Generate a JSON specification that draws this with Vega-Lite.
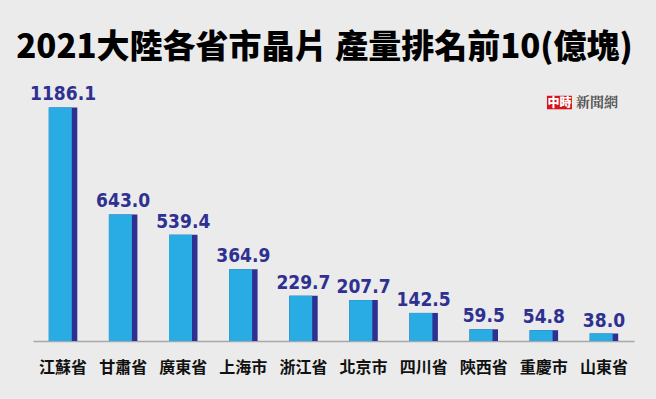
{
  "$schema": "https://vega.github.io/schema/vega-lite/v6.json",
  "autosize": {"type": "none"},
  "width": 601,
  "height": 256,
  "padding": {"left": 33, "top": 85, "right": 22, "bottom": 58},
  "background": "#ebebeb",
  "title": {
    "text": "2021大陸各省市晶片 產量排名前10(億塊)",
    "fontSize": 33,
    "font": "Noto Sans CJK TC",
    "fontWeight": 900,
    "color": "#000000",
    "anchor": "middle",
    "frame": "group",
    "dx": -9,
    "offset": 20
  },
  "config": {"view": {"stroke": null}},
  "data": {
    "values": [
      {"province": "江蘇省", "value": 1186.1},
      {"province": "甘肅省", "value": 643.0},
      {"province": "廣東省", "value": 539.4},
      {"province": "上海市", "value": 364.9},
      {"province": "浙江省", "value": 229.7},
      {"province": "北京市", "value": 207.7},
      {"province": "四川省", "value": 142.5},
      {"province": "陝西省", "value": 59.5},
      {"province": "重慶市", "value": 54.8},
      {"province": "山東省", "value": 38.0}
    ]
  },
  "encoding": {
    "x": {
      "field": "province",
      "type": "nominal",
      "sort": null,
      "scale": {"paddingInner": 0.526, "paddingOuter": 0.263},
      "axis": {
        "title": null,
        "ticks": false,
        "labelAngle": 0,
        "labelFont": "Noto Sans CJK TC",
        "labelFontSize": 16,
        "labelFontWeight": "bold",
        "labelColor": "#111111",
        "labelPadding": 18,
        "domainColor": "#a8a8a8",
        "domainWidth": 1.5
      }
    },
    "y": {
      "field": "value",
      "type": "quantitative",
      "scale": {"domain": [0, 1300]},
      "axis": null
    }
  },
  "layer": [
    {"mark": {"type": "bar", "color": "#2e3192"}},
    {"mark": {"type": "bar", "color": "#29abe3", "width": 23, "xOffset": -2.75}},
    {
      "mark": {
        "type": "text",
        "baseline": "alphabetic",
        "dy": -7,
        "font": "Liberation Sans Narrow, DejaVu Sans Condensed, sans-serif",
        "fontSize": 19,
        "fontWeight": "bold",
        "color": "#2e3192"
      },
      "encoding": {"text": {"field": "value", "type": "quantitative", "format": ".1f"}}
    },
    {
      "transform": [{"filter": "datum.province === '山東省'"}],
      "mark": {"type": "point", "shape": "M-1,-0.54H1V0.54H-1Z", "size": 625, "filled": true, "color": "#d7141a", "opacity": 1, "strokeWidth": 0, "xOffset": -44.5},
      "encoding": {"y": {"datum": 1211}}
    },
    {
      "transform": [{"filter": "datum.province === '山東省'"}],
      "mark": {"type": "text", "font": "Noto Sans CJK TC", "fontWeight": 900, "fontSize": 12, "color": "#ffffff", "xOffset": -44.5, "text": "中時"},
      "encoding": {"y": {"datum": 1211}}
    },
    {
      "transform": [{"filter": "datum.province === '山東省'"}],
      "mark": {"type": "text", "font": "Noto Serif CJK TC, Noto Sans CJK TC", "fontWeight": "bold", "fontSize": 14, "color": "#555555", "xOffset": -7, "text": "新聞網"},
      "encoding": {"y": {"datum": 1211}}
    }
  ]
}
